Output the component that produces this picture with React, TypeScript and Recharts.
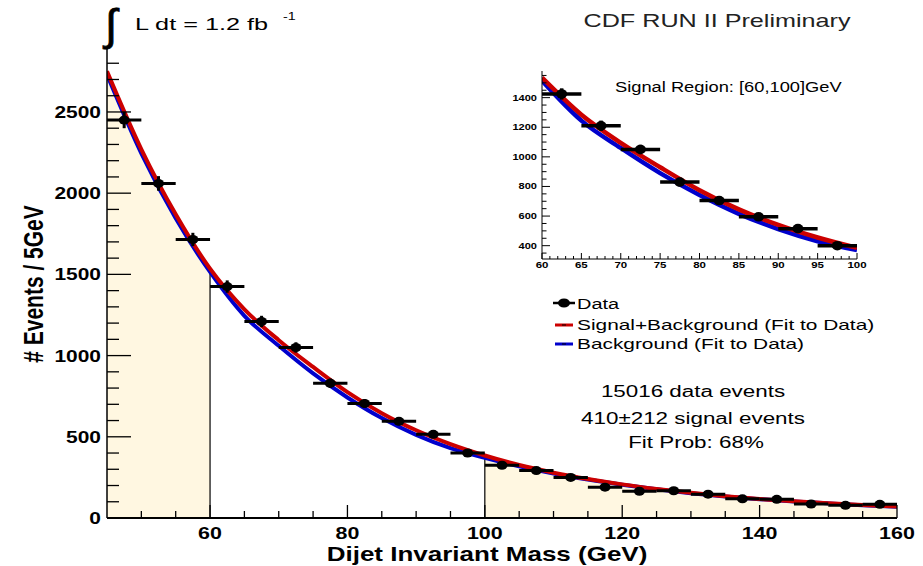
import React from "react";
import {
  ComposedChart,
  Line,
  Area,
  Scatter,
  XAxis,
  YAxis,
  ErrorBar,
  ReferenceLine,
} from "recharts";

const FONT = '"Liberation Sans", Arial, Helvetica, sans-serif';

const fitMass = [45, 50, 55, 60, 65, 70, 75, 80, 85, 90, 95, 100, 105, 110, 115, 120, 125, 130, 135, 140, 145, 150, 155, 160];
const backgroundFit = [2730, 2245, 1845, 1515, 1245, 1060, 890, 742, 615, 512, 430, 370, 318, 274, 237, 205, 177, 153, 133, 116, 102, 90, 79, 70];
const signalPlusBackgroundFit = [2750, 2270, 1870, 1535, 1285, 1095, 930, 775, 645, 540, 455, 385, 326, 279, 240, 207, 179, 155, 134, 117, 103, 91, 80, 71];

// ---- data histogram (bin centres, counts, errors) ----
const binCenters = [47.5, 52.5, 57.5, 62.5, 67.5, 72.5, 77.5, 82.5, 87.5, 92.5, 97.5, 102.5, 107.5, 112.5, 117.5, 122.5, 127.5, 132.5, 137.5, 142.5, 147.5, 152.5, 157.5];
const eventCounts = [2450, 2060, 1715, 1425, 1210, 1050, 830, 705, 595, 515, 400, 325, 292, 250, 190, 165, 168, 147, 118, 115, 86, 78, 84];
const eventErrors = [50, 45, 41, 38, 35, 32, 29, 27, 24, 23, 20, 18, 17, 16, 14, 13, 13, 12, 11, 11, 9, 9, 9];
const binHalfWidth = 2.5;

// ---- sidebands / signal region ----
const signalRegion = [60, 100];

// ---- ticks ----
const mainXTicks = [50, 55, 60, 65, 70, 75, 80, 85, 90, 95, 100, 105, 110, 115, 120, 125, 130, 135, 140, 145, 150, 155, 160];
const mainXLabels = [60, 80, 100, 120, 140, 160];
const mainYTicks = [0, 100, 200, 300, 400, 500, 600, 700, 800, 900, 1000, 1100, 1200, 1300, 1400, 1500, 1600, 1700, 1800, 1900, 2000, 2100, 2200, 2300, 2400, 2500, 2600, 2700, 2800];
const mainYLabels = [0, 500, 1000, 1500, 2000, 2500];
const insetXTicks = [60, 61, 62, 63, 64, 65, 66, 67, 68, 69, 70, 71, 72, 73, 74, 75, 76, 77, 78, 79, 80, 81, 82, 83, 84, 85, 86, 87, 88, 89, 90, 91, 92, 93, 94, 95, 96, 97, 98, 99, 100];
const insetXLabels = [60, 65, 70, 75, 80, 85, 90, 95, 100];
const insetYTicks = [350, 400, 450, 500, 550, 600, 650, 700, 750, 800, 850, 900, 950, 1000, 1050, 1100, 1150, 1200, 1250, 1300, 1350, 1400, 1450, 1500, 1550];
const insetYLabels = [400, 600, 800, 1000, 1200, 1400];

// ---- texts ----
const legendLabels = ["Data", "Signal+Background (Fit to Data)", "Background (Fit to Data)"];
const statLines = ["15016 data events", "410\u00b1212 signal events", "Fit Prob: 68%"];

const fitTable = fitMass.map((x, i) => ({ x, bkg: backgroundFit[i], sb: signalPlusBackgroundFit[i] }));
const dataTable = binCenters.map((x, i) => ({ x, y: eventCounts[i], ex: binHalfWidth, ey: eventErrors[i] }));
const lowSideband = fitTable.filter((d) => d.x <= signalRegion[0]);
const highSideband = fitTable.filter((d) => d.x >= signalRegion[1]);
const insetFit = fitTable.filter((d) => d.x >= signalRegion[0] && d.x <= signalRegion[1]);
const insetData = dataTable.filter((d) => d.x > signalRegion[0] && d.x < signalRegion[1]);
const bkgAt = (m: number) => fitTable.find((d) => d.x === m)!.bkg;

const RED = "#cc0000";
const BLUE = "#0000cc";
const FILL = "#fff7e1";

const SText = ({ x, y, size, sx = 1.3, anchor = "start", weight = "normal", fill = "#000", children }: any) => (
  <text
    transform={`translate(${x},${y}) scale(${sx},1)`}
    textAnchor={anchor}
    fontSize={size}
    fontWeight={weight}
    fontFamily={FONT}
    fill={fill}
  >
    {children}
  </text>
);

const renderMainYTick = (p: any) => {
  const v = p.payload.value;
  const major = mainYLabels.includes(v);
  return (
    <g>
      <line x1={p.x} x2={p.x + (major ? 24 : 12)} y1={p.y} y2={p.y} stroke="#000" strokeWidth={1.3} />
      {major && (
        <SText x={p.x - 6} y={p.y + 6} size={16.5} sx={1.27} anchor="end" weight="bold">
          {v}
        </SText>
      )}
    </g>
  );
};

const renderMainXTick = (p: any) => {
  const v = p.payload.value;
  const major = mainXLabels.includes(v);
  return (
    <g>
      <line x1={p.x} x2={p.x} y1={p.y} y2={p.y - (major ? 13 : 7)} stroke="#000" strokeWidth={1.3} />
      {major && (
        <SText x={p.x} y={p.y + 21} size={16.5} sx={1.3} anchor="middle" weight="bold">
          {v}
        </SText>
      )}
    </g>
  );
};

const renderInsetYTick = (p: any) => {
  const v = p.payload.value;
  const major = insetYLabels.includes(v);
  return (
    <g>
      <line x1={p.x} x2={p.x + (major ? 8 : 4.5)} y1={p.y} y2={p.y} stroke="#000" strokeWidth={1} />
      {major && (
        <SText x={p.x - 5} y={p.y + 3} size={8.5} sx={1.3} anchor="end" weight="bold">
          {v}
        </SText>
      )}
    </g>
  );
};

const renderInsetXTick = (p: any) => {
  const v = p.payload.value;
  const major = insetXLabels.includes(v);
  return (
    <g>
      <line x1={p.x} x2={p.x} y1={p.y} y2={p.y - (major ? 6 : 3)} stroke="#000" strokeWidth={1} />
      {major && (
        <SText x={p.x} y={p.y + 9} size={8.5} sx={1.35} anchor="middle" weight="bold">
          {v}
        </SText>
      )}
    </g>
  );
};

const mainMarker = (p: any) => <ellipse cx={p.cx} cy={p.cy} rx={5.5} ry={4.5} fill="#000" />;
const insetMarker = (p: any) => <ellipse cx={p.cx} cy={p.cy} rx={5.5} ry={4.8} fill="#000" />;

export default function App() {
  return (
    <div style={{ position: "absolute", left: 0, top: 0, width: 923, height: 566, background: "#fff", overflow: "hidden" }}>
      <div style={{ position: "absolute", left: 0, top: 0 }}>
        <ComposedChart width={923} height={566} margin={{ top: 47, right: 26, bottom: 0, left: 0 }}>
          <XAxis
            dataKey="x"
            type="number"
            domain={[45, 160]}
            ticks={mainXTicks}
            interval={0}
            height={48}
            tickSize={0}
            tickMargin={0}
            tickLine={false}
            axisLine={{ stroke: "#000", strokeWidth: 2 }}
            tick={renderMainXTick}
            allowDataOverflow
          />
          <XAxis xAxisId="top" orientation="top" type="number" domain={[45, 160]} height={0} tick={false} tickLine={false} axisLine={{ stroke: "#000", strokeWidth: 1.3 }} />
          <YAxis
            type="number"
            domain={[0, 2900]}
            ticks={mainYTicks}
            interval={0}
            width={107}
            tickSize={0}
            tickMargin={0}
            tickLine={false}
            axisLine={{ stroke: "#000", strokeWidth: 1.5 }}
            tick={renderMainYTick}
            allowDataOverflow
          />
          <YAxis yAxisId="right" orientation="right" type="number" domain={[0, 2900]} width={0} tick={false} tickLine={false} axisLine={{ stroke: "#000", strokeWidth: 1.3 }} />

          <Area data={lowSideband} dataKey="bkg" type="monotone" stroke="none" fill={FILL} fillOpacity={1} isAnimationActive={false} />
          <Area data={highSideband} dataKey="bkg" type="monotone" stroke="none" fill={FILL} fillOpacity={1} isAnimationActive={false} />
          {signalRegion.map((m) => (
            <ReferenceLine key={m} segment={[{ x: m, y: 0 }, { x: m, y: bkgAt(m) }]} stroke="#000" strokeWidth={1.2} />
          ))}
          <Line data={fitTable} dataKey="bkg" type="monotone" stroke={BLUE} strokeWidth={4} dot={false} isAnimationActive={false} />
          <Line data={fitTable} dataKey="sb" type="monotone" stroke={RED} strokeWidth={4} dot={false} isAnimationActive={false} />
          <Scatter data={dataTable} dataKey="y" fill="#000" shape={mainMarker} isAnimationActive={false}>
            <ErrorBar dataKey="ex" direction="x" width={0} stroke="#000" strokeWidth={3} />
            <ErrorBar dataKey="ey" direction="y" width={0} stroke="#000" strokeWidth={3} />
          </Scatter>
        </ComposedChart>
      </div>

      <div style={{ position: "absolute", left: 500, top: 62, background: "#fff" }}>
        <ComposedChart width={370} height={222} margin={{ top: 9, right: 13, bottom: 0, left: 0 }}>
          <XAxis
            dataKey="x"
            type="number"
            domain={[60, 100]}
            ticks={insetXTicks}
            interval={0}
            height={25}
            tickSize={0}
            tickMargin={0}
            tickLine={false}
            axisLine={{ stroke: "#000", strokeWidth: 1 }}
            tick={renderInsetXTick}
            allowDataOverflow
          />
          <XAxis xAxisId="top" orientation="top" type="number" domain={[60, 100]} height={0} tick={false} tickLine={false} axisLine={{ stroke: "#000", strokeWidth: 1 }} />
          <YAxis
            type="number"
            domain={[310, 1580]}
            ticks={insetYTicks}
            interval={0}
            width={42}
            tickSize={0}
            tickMargin={0}
            tickLine={false}
            axisLine={{ stroke: "#000", strokeWidth: 1 }}
            tick={renderInsetYTick}
            allowDataOverflow
          />
          <YAxis yAxisId="right" orientation="right" type="number" domain={[310, 1580]} width={0} tick={false} tickLine={false} axisLine={{ stroke: "#000", strokeWidth: 1 }} />
          <Line data={insetFit} dataKey="bkg" type="monotone" stroke={BLUE} strokeWidth={4.5} dot={false} isAnimationActive={false} />
          <Line data={insetFit} dataKey="sb" type="monotone" stroke={RED} strokeWidth={4.5} dot={false} isAnimationActive={false} />
          <Scatter data={insetData} dataKey="y" fill="#000" shape={insetMarker} isAnimationActive={false}>
            <ErrorBar dataKey="ex" direction="x" width={0} stroke="#000" strokeWidth={3.5} />
            <ErrorBar dataKey="ey" direction="y" width={0} stroke="#000" strokeWidth={3.5} />
          </Scatter>
        </ComposedChart>
      </div>

      <svg width={923} height={566} style={{ position: "absolute", left: 0, top: 0, pointerEvents: "none" }}>
        {/* header */}
        <text x={105} y={40} fontSize={44} fontFamily={FONT} fill="#000" stroke="#000" strokeWidth={0.8}>
          {"\u222B"}
        </text>
        <text
          x={135}
          y={30}
          fontSize={16.5}
          fontFamily={FONT}
          fill="#000"
          textLength={133}
          lengthAdjust="spacingAndGlyphs"
        >
          L dt = 1.2 fb
        </text>
        <SText x={283} y={20} size={11} sx={1.3}>
          -1
        </SText>
        <SText x={717} y={27} size={18.5} sx={1.36} anchor="middle" fill="#222">
          CDF RUN II Preliminary
        </SText>

        {/* axis titles */}
        <text
          transform="translate(43,284) scale(1.3,1) rotate(-90)"
          textAnchor="middle"
          fontSize={21}
          fontWeight="bold"
          fontFamily={FONT}
          fill="#000"
        >
          # Events / 5GeV
        </text>
        <SText x={487} y={561} size={20} sx={1.3} anchor="middle" weight="bold">
          Dijet Invariant Mass (GeV)
        </SText>

        {/* inset title */}
        <SText x={615} y={92} size={15} sx={1.22}>
          Signal Region: [60,100]GeV
        </SText>

        {/* legend */}
        <line x1={553} x2={575} y1={303} y2={303} stroke="#000" strokeWidth={2.5} />
        <ellipse cx={564} cy={303} rx={6} ry={4.5} fill="#000" />
        <SText x={577} y={309} size={15} sx={1.33}>
          {legendLabels[0]}
        </SText>
        <line x1={555} x2={573} y1={325} y2={325} stroke={RED} strokeWidth={3} />
        <line x1={562} x2={566} y1={325} y2={325} stroke="#000" strokeWidth={1} />
        <SText x={577} y={330} size={15} sx={1.39}>
          {legendLabels[1]}
        </SText>
        <line x1={555} x2={573} y1={344} y2={344} stroke={BLUE} strokeWidth={3} />
        <line x1={562} x2={566} y1={344} y2={344} stroke="#000" strokeWidth={1} />
        <SText x={577} y={349} size={15} sx={1.39}>
          {legendLabels[2]}
        </SText>

        {/* fit statistics */}
        <SText x={693} y={397} size={16} sx={1.4} anchor="middle">
          {statLines[0]}
        </SText>
        <SText x={693} y={424} size={16} sx={1.4} anchor="middle">
          {statLines[1]}
        </SText>
        <SText x={696} y={448} size={16} sx={1.4} anchor="middle">
          {statLines[2]}
        </SText>
      </svg>
    </div>
  );
}
